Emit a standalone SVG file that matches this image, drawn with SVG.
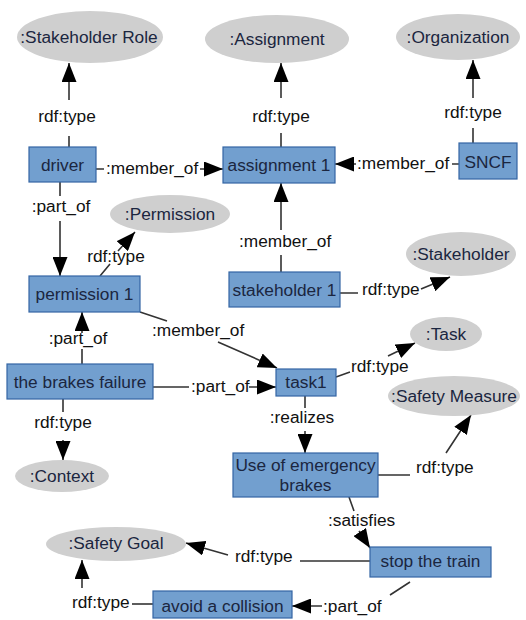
<svg xmlns="http://www.w3.org/2000/svg" width="526" height="620" viewBox="0 0 526 620">
<defs>
<marker id="arr" markerUnits="userSpaceOnUse" markerWidth="19" markerHeight="15" refX="19" refY="7.5" orient="auto"><path d="M0,0 L19,7.5 L0,15 z" fill="#000"/></marker>
<style>
.box{fill:#729fcf;stroke:#3465a4;stroke-width:1.2}
.ell{fill:#cfcfcf;stroke:none}
.t{font-family:"Liberation Sans",Arial,sans-serif;font-size:17.3px;fill:#1b2640;text-anchor:middle}
.l{font-family:"Liberation Sans",Arial,sans-serif;font-size:17.3px;fill:#111}
.c{fill:none;stroke:#333;stroke-width:1.6}
</style>
</defs>
<rect width="526" height="620" fill="#fff"/>
<g id="connectors">
<path class="c" d="M69,147 L69,136 M69,100 L69,63" marker-end="url(#arr)"/>
<text class="l" x="67" y="122" text-anchor="middle">rdf:type</text>
<path class="c" d="M96,169 L104,169 M200,169 L223,169" marker-end="url(#arr)"/>
<text class="l" x="106" y="174">:member_of</text>
<path class="c" d="M281,147 L281,133 M281,98 L281,63" marker-end="url(#arr)"/>
<text class="l" x="281" y="122" text-anchor="middle">rdf:type</text>
<path class="c" d="M473,143 L473,128 M473,98 L473,60" marker-end="url(#arr)"/>
<text class="l" x="473" y="118" text-anchor="middle">rdf:type</text>
<path class="c" d="M459,164 L452,164 M356,164 L335,164" marker-end="url(#arr)"/>
<text class="l" x="357" y="169">:member_of</text>
<path class="c" d="M60,182 L60,196 M60,221 L60,276" marker-end="url(#arr)"/>
<text class="l" x="61" y="212" text-anchor="middle">:part_of</text>
<path class="c" d="M100,276 L110,264 M118,251 L135,232" marker-end="url(#arr)"/>
<text class="l" x="116" y="262" text-anchor="middle">rdf:type</text>
<path class="c" d="M140,312 L167,321 M218,342 L277,368" marker-end="url(#arr)"/>
<text class="l" x="152" y="336">:member_of</text>
<path class="c" d="M82,364 L82,349 M82,333 L82,312" marker-end="url(#arr)"/>
<text class="l" x="78" y="344" text-anchor="middle">:part_of</text>
<path class="c" d="M153,387 L189,387 M249,387 L276,387" marker-end="url(#arr)"/>
<text class="l" x="191" y="392">:part_of</text>
<path class="c" d="M63,399 L63,412 M63,440 L63,460" marker-end="url(#arr)"/>
<text class="l" x="63" y="428" text-anchor="middle">rdf:type</text>
<path class="c" d="M281,272 L281,255 M281,230 L281,183" marker-end="url(#arr)"/>
<text class="l" x="239" y="247">:member_of</text>
<path class="c" d="M340,293 L358,293 M421,289 L450,277" marker-end="url(#arr)"/>
<text class="l" x="362" y="295">rdf:type</text>
<path class="c" d="M336,377 L350,372 M388,356 L415,343" marker-end="url(#arr)"/>
<text class="l" x="351" y="372">rdf:type</text>
<path class="c" d="M305,396 L305,408 M305,431 L305,453" marker-end="url(#arr)"/>
<text class="l" x="302" y="423" text-anchor="middle">:realizes</text>
<path class="c" d="M378,475 L410,475 M446,453 L471,415" marker-end="url(#arr)"/>
<text class="l" x="416" y="473">rdf:type</text>
<path class="c" d="M349,497 L354,511 M359,531 L370,548" marker-end="url(#arr)"/>
<text class="l" x="328" y="526">:satisfies</text>
<path class="c" d="M370,561 L300,561 M228,555 L186,543" marker-end="url(#arr)"/>
<text class="l" x="235" y="562">rdf:type</text>
<path class="c" d="M410,582 L390,595 M322,606 L292,606" marker-end="url(#arr)"/>
<text class="l" x="323" y="612">:part_of</text>
<path class="c" d="M153,604 L132,604"/>
<path class="c" d="M82,588 L82,560" marker-end="url(#arr)"/>
<text class="l" x="72" y="608">rdf:type</text>
</g>
<g id="n-stakeholder-role"><ellipse class="ell" cx="90" cy="37" rx="73" ry="26"/><text class="t" x="89" y="43">:Stakeholder Role</text></g>
<g id="n-assignment"><ellipse class="ell" cx="277" cy="39" rx="72" ry="24"/><text class="t" x="277" y="45">:Assignment</text></g>
<g id="n-organization"><ellipse class="ell" cx="458" cy="37" rx="62" ry="23"/><text class="t" x="458" y="43">:Organization</text></g>
<g id="n-driver"><rect class="box" x="29" y="147" width="67" height="35"/><text class="t" x="62.5" y="171">driver</text></g>
<g id="n-assignment1"><rect class="box" x="223" y="147" width="112" height="36"/><text class="t" x="279" y="171">assignment 1</text></g>
<g id="n-sncf"><rect class="box" x="459" y="143" width="58" height="36"/><text class="t" x="488" y="168">SNCF</text></g>
<g id="n-permission"><ellipse class="ell" cx="170" cy="214" rx="60" ry="19"/><text class="t" x="170" y="220">:Permission</text></g>
<g id="n-permission1"><rect class="box" x="29" y="276" width="111" height="36"/><text class="t" x="84.5" y="300">permission 1</text></g>
<g id="n-stakeholder1"><rect class="box" x="229" y="272" width="111" height="35"/><text class="t" x="284.5" y="296">stakeholder 1</text></g>
<g id="n-stakeholder"><ellipse class="ell" cx="461" cy="254" rx="55" ry="22"/><text class="t" x="461" y="260">:Stakeholder</text></g>
<g id="n-brakes-failure"><rect class="box" x="7" y="364" width="146" height="35"/><text class="t" x="80" y="388">the brakes failure</text></g>
<g id="n-task1"><rect class="box" x="276" y="369" width="60" height="27"/><text class="t" x="306" y="388">task1</text></g>
<g id="n-task"><ellipse class="ell" cx="446" cy="334" rx="36" ry="17"/><text class="t" x="446" y="340">:Task</text></g>
<g id="n-safety-measure"><ellipse class="ell" cx="454" cy="396" rx="66" ry="20"/><text class="t" x="454" y="402">:Safety Measure</text></g>
<g id="n-context"><ellipse class="ell" cx="62" cy="476" rx="47" ry="16"/><text class="t" x="62" y="482">:Context</text></g>
<g id="n-emergency-brakes"><rect class="box" x="233" y="453" width="145" height="44"/><text class="t" x="305.5" y="471">Use of emergency</text><text class="t" x="305.5" y="491">brakes</text></g>
<g id="n-stop-train"><rect class="box" x="370" y="547" width="121" height="30"/><text class="t" x="430.5" y="567">stop the train</text></g>
<g id="n-safety-goal"><ellipse class="ell" cx="116" cy="544" rx="70" ry="17"/><text class="t" x="116" y="549">:Safety Goal</text></g>
<g id="n-avoid-collision"><rect class="box" x="153" y="591" width="139" height="27"/><text class="t" x="222.5" y="612">avoid a collision</text></g>
</svg>
